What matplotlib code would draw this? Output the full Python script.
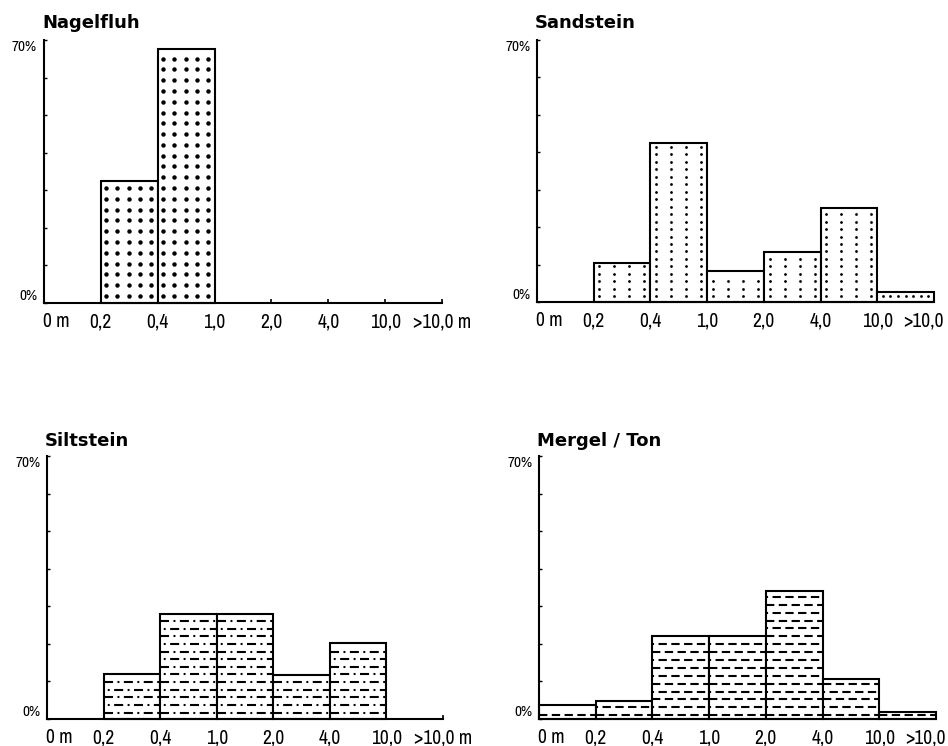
import numpy as np
import matplotlib
matplotlib.use("Agg")
import matplotlib.pyplot as plt
from matplotlib import font_manager as fm

plt.rcParams['lines.scale_dashes'] = False

# bin boundaries (equal-width classes on the x axis)
labels_left = ["0 m", "0,2", "0,4", "1,0", "2,0", "4,0", "10,0", ">10,0 m"]
labels_right = ["0 m", "0,2", "0,4", "1,0", "2,0", "4,0", "10,0", ">10,0"]

# share of beds per thickness class, in %
nagelfluh = [0, 32.5, 67.5, 0, 0, 0, 0]
sandstein = [0, 10.4, 42.6, 8.2, 13.3, 25.2, 2.7]
siltstein = [0, 12.0, 28.0, 28.0, 11.7, 20.2, 0]
mergel = [3.6, 4.9, 22.1, 22.2, 34.2, 10.6, 1.9]

titles = ["Nagelfluh", "Sandstein", "Siltstein", "Mergel / Ton"]

# look for a narrow / condensed face for the tick texts
def is_narrow(f):
  return ('Narrow' in f.name or 'Condensed' in f.name or 'Condensed' in f.fname
          or f.stretch in ('condensed', 'semi-condensed', 'extra-condensed'))

cands = [f for f in fm.fontManager.ttflist
         if is_narrow(f) and f.style == 'normal' and f.weight in (400, 500, 'normal', 'regular', 'medium')]
cands.sort(key=lambda f: (f.stretch != 'condensed', f.name))
if cands:
  narrow = fm.FontProperties(fname=cands[0].fname)
  tick_size, pct_size = 14, 11
else:
  narrow = fm.FontProperties(family='Liberation Sans')
  tick_size, pct_size = 11, 9.5

W, H = 948, 746
fig = plt.figure(figsize=(W/100, H/100), dpi=100)
fig.patch.set_facecolor("white")


def px_rect(l, t, r, b):
  return [l/W, (H-b)/H, (r-l)/W, (b-t)/H]

# panels in pixels: left, top (70 %), right, baseline (0 %)
rects = [px_rect(44, 40, 442, 303),
         px_rect(537, 40, 934, 302),
         px_rect(47, 456, 443, 719),
         px_rect(539, 456, 936, 719)]


def dots(ax, bar, x0, dx, y0, dy, ms):
  x, w, h = bar.get_x(), bar.get_width(), bar.get_height()
  if h < 2 * dy:
    dx = dx / 2
  xs = x + np.arange(x0, w - 0.03, dx)
  ys = np.arange(y0, h - 0.7, dy)
  if len(ys) == 0:
    ys = np.array([h/2])
  X, Y = np.meshgrid(xs, ys)
  ax.plot(X.ravel(), Y.ravel(), 'o', ms=ms, color='k', mew=0, clip_path=bar)


def rows(ax, bar, y0, dy, styles, lw=1.5):
  x, w, h = bar.get_x(), bar.get_width(), bar.get_height()
  ys = np.arange(y0, h - 0.8, dy)
  if len(ys) == 0:
    ys = np.array([h/2])
  for k, y in enumerate(ys):
    ax.plot([x, x+w], [y, y], color='k', lw=lw, linestyle=styles[k % len(styles)],
            dash_capstyle='butt', solid_capstyle='butt', clip_path=bar)


def pattern(ax, bar, kind):
  if kind == 0:
    dots(ax, bar, 0.09, 0.2, 1.9, 2.87, 3.2)
  elif kind == 1:
    dots(ax, bar, 0.1, 0.265, 1.5, 2.0, 2.0)
  elif kind == 2:
    rows(ax, bar, 1.7, 2.03, [(0, (6.5, 3.2, 1.4, 3.2)), (7, (6.5, 3.2, 1.4, 3.2))])
  else:
    rows(ax, bar, 1.0, 2.1, [(0, (6, 3.2)), (4.5, (6, 3.2))])


for i, vals in enumerate([nagelfluh, sandstein, siltstein, mergel]):
  ax = fig.add_axes(rects[i])
  ax.set_xlim(0, 7)
  ax.set_ylim(0, 70)
  bars = ax.bar(np.arange(7), vals, width=1, align='edge', facecolor='white',
                edgecolor='black', linewidth=1.5, clip_on=False, zorder=2)
  for b, v in zip(bars, vals):
    if v > 0:
      pattern(ax, b, i)
    else:
      b.set_visible(False)

  for s in ['top', 'right']:
    ax.spines[s].set_visible(False)
  for s in ['left', 'bottom']:
    ax.spines[s].set_linewidth(1.5)
    ax.spines[s].set_zorder(3)

  ax.set_yticks(np.arange(0, 71, 10))
  ax.set_yticklabels([])
  ax.tick_params(axis='y', direction='in', length=2.5, width=1)
  ax.set_xticks(np.arange(8))
  ax.set_xticklabels([])
  ax.tick_params(axis='x', direction='in', length=3, width=1.2)

  labels = labels_left if i % 2 == 0 else labels_right
  for j, lab in enumerate(labels):
    ha, dx = 'center', 0
    if j == 0:
      ha, dx = 'left', -1
    if j == 7 and i % 2 == 1:
      ha, dx = 'right', 10
    ax.annotate(lab, xy=(j, 0), xycoords=('data', 'axes fraction'),
                xytext=(dx, -9), textcoords='offset pixels', ha=ha, va='top',
                fontsize=tick_size, fontproperties=narrow)

  ax.annotate("70%", xy=(0, 70), xytext=(-7, 0), textcoords='offset pixels',
              ha='right', va='top', fontsize=pct_size, fontproperties=narrow)
  ax.annotate("0%", xy=(0, 0), xytext=(-7, 0), textcoords='offset pixels',
              ha='right', va='bottom', fontsize=pct_size, fontproperties=narrow)

  ax.annotate(titles[i], xy=(0, 1), xycoords='axes fraction',
              xytext=(-2, 17 if i < 2 else 15), textcoords='offset pixels',
              ha='left', va='center', fontsize=13, fontweight='bold',
              family='DejaVu Sans')

fig.savefig("out.png", dpi=100)
